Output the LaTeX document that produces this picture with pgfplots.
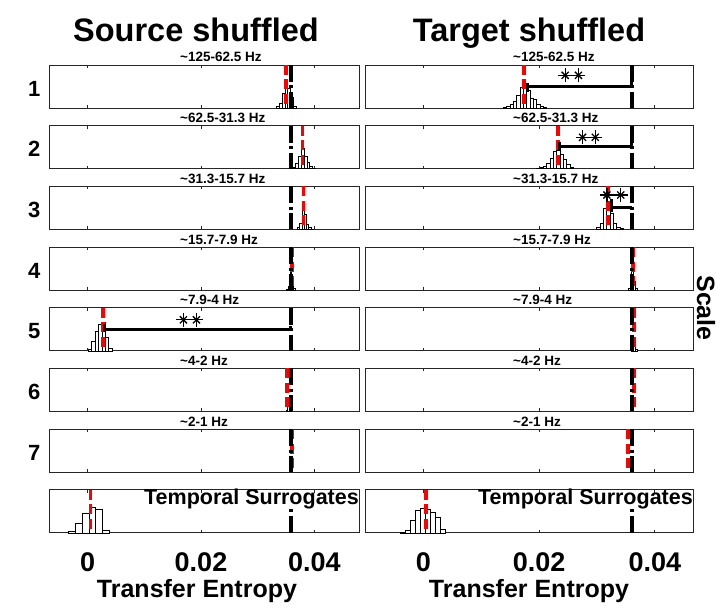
\documentclass[border=0pt]{standalone}
\usepackage{fontspec}
\setmainfont{Liberation Sans}
\usepackage{pgfplots}
\pgfplotsset{compat=1.18}

\newcommand\fs[1]{\fontsize{#1}{#1}\selectfont\bfseries}

\pgfplotsset{
  base/.style={scale only axis, height=43pt, ymin=0, ymax=1, ytick=\empty,
    xtick={0,0.02,0.04}, scaled x ticks=false, xticklabels={},
    tick align=inside, xtick pos=both, major tick length=3pt,
    axis line style={line width=0.9pt, black!85},
    every tick/.style={line width=0.9pt, black!85},
    clip=false, anchor=south west},
  L/.style={base, width=310pt, xmin=-0.00683, xmax=0.04789},
  R/.style={base, width=328pt, xmin=-0.01007, xmax=0.04658},
  bottom/.style={xticklabels={0,0.02,0.04},
    xticklabel style={font=\fs{27}, anchor=base, yshift=-39pt},
    xlabel={Transfer Entropy},
    xlabel style={at={(axis description cs:0.5,0)}, anchor=base, yshift=-65pt, font=\fs{25}}},
  hist/.style={ybar interval, draw=black, fill=white, line width=0.55pt},
  surr/.style={red, line width=3.8pt, dash pattern=on 10pt off 4.5pt},
  te/.style={black, line width=4pt, dash pattern=on 17pt off 3.5pt on 3pt off 3.5pt},
  brk/.style={black, line width=3pt},
  stA/.style={only marks, mark=+, mark size=7pt, mark options={line width=1.3pt}, black},
  stB/.style={only marks, mark=x, mark size=5pt, mark options={line width=1.3pt}, black},
}
% row number to the left of a panel
\newcommand\rowlabel[1]{\node[anchor=east, font=\fs{22}, xshift=-5pt, yshift=-2pt] at (rel axis cs:0,0.5) {#1};}
% frequency band written just above a panel, starting at a fixed fraction of its width
\newcommand\band[2]{\node[anchor=base west, font=\fs{13.5}, inner sep=0pt, yshift=3pt] at (rel axis cs:#1,1) {#2};}
\newcommand\surrlabel{\node[anchor=base east, font=\fs{21.5}, inner sep=0pt, yshift=-15pt] at (rel axis cs:1,1) {Temporal Surrogates};}

\begin{document}
\begin{tikzpicture}
\path[use as bounding box] (0,0) rectangle (717pt,608pt);

\node[font=\fs{32.5}, anchor=base] at (196pt,566pt) {Source shuffled};
\node[font=\fs{32.5}, anchor=base] at (529pt,566pt) {Target shuffled};
\node[font=\fs{25}, rotate=-90] at (706pt,300pt) {Scale};

% ---------------- Source shuffled ----------------
\begin{axis}[L, at={(49pt,500pt)}]
\addplot[hist] coordinates {(0.0333,0.03) (0.0338,0.12) (0.0343,0.35) (0.0348,0.58) (0.0353,0.45) (0.0358,0.25) (0.0363,0.05) (0.0368,0)};
\addplot[surr] coordinates {(0.0350,1) (0.0350,0)};
\addplot[te] coordinates {(0.0358,1) (0.0358,0)};
\band{0.4226}{\textasciitilde125-62.5 Hz}
\rowlabel{1}
\end{axis}

\begin{axis}[L, at={(49pt,439.3pt)}]
\addplot[hist] coordinates {(0.0362,0.03) (0.0367,0.12) (0.0372,0.28) (0.0377,0.48) (0.0382,0.30) (0.0387,0.15) (0.0392,0.05) (0.0397,0.02) (0.0402,0)};
\addplot[surr] coordinates {(0.0379,1) (0.0379,0)};
\addplot[te] coordinates {(0.0358,1) (0.0358,0)};
\band{0.4226}{\textasciitilde62.5-31.3 Hz}
\rowlabel{2}
\end{axis}

\begin{axis}[L, at={(49pt,378.6pt)}]
\addplot[hist] coordinates {(0.0370,0.04) (0.0374,0.15) (0.0378,0.56) (0.0382,0.35) (0.0386,0.12) (0.0390,0.04) (0.0394,0.01) (0.0398,0)};
\addplot[surr] coordinates {(0.0381,1) (0.0381,0)};
\addplot[te] coordinates {(0.0358,1) (0.0358,0)};
\band{0.4226}{\textasciitilde31.3-15.7 Hz}
\rowlabel{3}
\end{axis}

\begin{axis}[L, at={(49pt,317.9pt)}]
\addplot[hist] coordinates {(0.0351,0.03) (0.0354,0.10) (0.0357,0.47) (0.0360,0.20) (0.0363,0.05) (0.0366,0)};
\addplot[surr] coordinates {(0.0361,1) (0.0361,0)};
\addplot[te] coordinates {(0.0358,1) (0.0358,0)};
\band{0.4226}{\textasciitilde15.7-7.9 Hz}
\rowlabel{4}
\end{axis}

\begin{axis}[L, at={(49pt,257.2pt)}]
\addplot[hist] coordinates {(0.0001,0.04) (0.0007,0.22) (0.0013,0.45) (0.0019,0.62) (0.0025,0.67) (0.0031,0.32) (0.0037,0.07) (0.0043,0)};
\addplot[surr] coordinates {(0.00265,1) (0.00265,0)};
\addplot[te] coordinates {(0.0358,1) (0.0358,0)};
\addplot[brk] coordinates {(0.0030,0.62) (0.0030,0.44)};
\addplot[brk] coordinates {(0.0030,0.49) (0.0358,0.49) (0.0358,0.58)};
\addplot[stA] coordinates {(0.0169,0.72) (0.0192,0.72)};
\addplot[stB] coordinates {(0.0169,0.72) (0.0192,0.72)};
\band{0.4226}{\textasciitilde7.9-4 Hz}
\rowlabel{5}
\end{axis}

\begin{axis}[L, at={(49pt,196.5pt)}]
\addplot[hist] coordinates {(0.0350,0.04) (0.0353,0.25) (0.0356,0.08) (0.0359,0)};
\addplot[surr] coordinates {(0.03524,1) (0.03524,0)};
\addplot[te] coordinates {(0.0358,1) (0.0358,0)};
\band{0.4226}{\textasciitilde4-2 Hz}
\rowlabel{6}
\end{axis}

\begin{axis}[L, at={(49pt,135.8pt)}]
\addplot[surr] coordinates {(0.0361,1) (0.0361,0)};
\addplot[te] coordinates {(0.0358,1) (0.0358,0)};
\band{0.4226}{\textasciitilde2-1 Hz}
\rowlabel{7}
\end{axis}

\begin{axis}[L, bottom, at={(49pt,75.1pt)}, xlabel style={xshift=-7pt}]
\addplot[hist] coordinates {(-0.0034,0.04) (-0.0022,0.22) (-0.0010,0.46) (0.0002,0.60) (0.0014,0.55) (0.0026,0.07) (0.0038,0)};
\addplot[surr] coordinates {(0.0005,1) (0.0005,0)};
\addplot[te, dash pattern=on 3pt off 3.5pt on 20pt] coordinates {(0.0358,0.55) (0.0358,0)};
\surrlabel
\end{axis}

% ---------------- Target shuffled ----------------
\begin{axis}[R, at={(365pt,500pt)}]
\addplot[hist] coordinates {(0.01382,0.02) (0.01440,0.04) (0.01497,0.08) (0.01555,0.15) (0.01612,0.30) (0.01670,0.48) (0.01728,0.57) (0.01785,0.42) (0.01843,0.22) (0.01900,0.20) (0.01958,0.08) (0.02015,0.03) (0.02073,0.01) (0.02131,0)};
\addplot[surr] coordinates {(0.01745,1) (0.01745,0)};
\addplot[te] coordinates {(0.0360,1) (0.0360,0)};
\addplot[brk] coordinates {(0.0180,0.58) (0.0180,0.38)};
\addplot[brk] coordinates {(0.0180,0.50) (0.0360,0.50) (0.0360,0.62)};
\addplot[stA] coordinates {(0.0245,0.76) (0.0268,0.76)};
\addplot[stB] coordinates {(0.0245,0.76) (0.0268,0.76)};
\band{0.451}{\textasciitilde125-62.5 Hz}
\end{axis}

\begin{axis}[R, at={(365pt,439.3pt)}]
\addplot[hist] coordinates {(0.01958,0.01) (0.02015,0.03) (0.02073,0.06) (0.02131,0.12) (0.02188,0.25) (0.02246,0.40) (0.02304,0.44) (0.02361,0.34) (0.02419,0.22) (0.02476,0.10) (0.02534,0.03) (0.02591,0)};
\addplot[surr] coordinates {(0.0233,1) (0.0233,0)};
\addplot[te] coordinates {(0.0360,1) (0.0360,0)};
\addplot[brk] coordinates {(0.0236,0.62) (0.0236,0.40)};
\addplot[brk] coordinates {(0.0236,0.52) (0.0360,0.52) (0.0360,0.62)};
\addplot[stA] coordinates {(0.0275,0.73) (0.0297,0.73)};
\addplot[stB] coordinates {(0.0275,0.73) (0.0297,0.73)};
\band{0.451}{\textasciitilde62.5-31.3 Hz}
\end{axis}

\begin{axis}[R, at={(365pt,378.6pt)}]
\addplot[hist] coordinates {(0.02994,0.05) (0.03052,0.15) (0.03109,0.48) (0.03167,0.45) (0.03224,0.38) (0.03282,0.15) (0.03340,0.05) (0.03397,0.02) (0.03455,0)};
\addplot[surr] coordinates {(0.03195,1) (0.03195,0)};
\addplot[te] coordinates {(0.0360,1) (0.0360,0)};
\addplot[brk] coordinates {(0.0325,0.70) (0.0325,0.40)};
\addplot[brk] coordinates {(0.0325,0.52) (0.0360,0.52)};
\addplot[stA] coordinates {(0.0317,0.80) (0.0341,0.80)};
\addplot[stB] coordinates {(0.0317,0.80) (0.0341,0.80)};
\band{0.451}{\textasciitilde31.3-15.7 Hz}
\end{axis}

\begin{axis}[R, at={(365pt,317.9pt)}]
\addplot[hist] coordinates {(0.0354,0.04) (0.0357,0.15) (0.0360,0.47) (0.0363,0.20) (0.0366,0.05) (0.0369,0)};
\addplot[surr] coordinates {(0.03627,1) (0.03627,0)};
\addplot[te] coordinates {(0.0360,1) (0.0360,0)};
\band{0.451}{\textasciitilde15.7-7.9 Hz}
\end{axis}

\begin{axis}[R, at={(365pt,257.2pt)}]
\addplot[hist] coordinates {(0.0360,0.05) (0.0363,0.12) (0.0366,0.04) (0.0369,0)};
\addplot[surr] coordinates {(0.0364,1) (0.0364,0)};
\addplot[te] coordinates {(0.0360,1) (0.0360,0)};
\band{0.451}{\textasciitilde7.9-4 Hz}
\end{axis}

\begin{axis}[R, at={(365pt,196.5pt)}]
\addplot[surr] coordinates {(0.0364,1) (0.0364,0)};
\addplot[te] coordinates {(0.0360,1) (0.0360,0)};
\band{0.451}{\textasciitilde4-2 Hz}
\end{axis}

\begin{axis}[R, at={(365pt,135.8pt)}]
\addplot[surr] coordinates {(0.0354,1) (0.0354,0)};
\addplot[te] coordinates {(0.0360,1) (0.0360,0)};
\band{0.451}{\textasciitilde2-1 Hz}
\end{axis}

\begin{axis}[R, bottom, at={(365pt,75.1pt)}]
\addplot[hist] coordinates {(-0.00400,0.02) (-0.00314,0.06) (-0.00228,0.30) (-0.00142,0.52) (-0.00056,0.57) (0.00030,0.55) (0.00116,0.48) (0.00202,0.36) (0.00288,0.08) (0.00374,0)};
\addplot[surr] coordinates {(0.0004,1) (0.0004,0)};
\addplot[te, dash pattern=on 3pt off 3.5pt on 20pt] coordinates {(0.0360,0.55) (0.0360,0)};
\surrlabel
\end{axis}
\end{tikzpicture}
\end{document}
